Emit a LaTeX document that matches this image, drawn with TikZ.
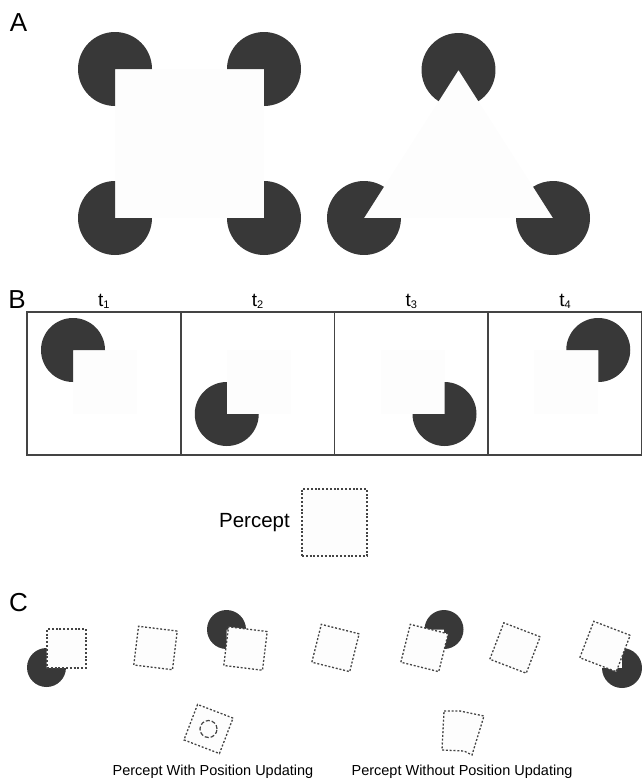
\documentclass[tikz,border=0pt]{standalone}
\usepackage{fontspec}
\setmainfont{Liberation Sans}
\usepackage{xcolor}
\usepackage{tikz}
\usetikzlibrary{positioning}
\definecolor{ink}{HTML}{383838}
\definecolor{rule}{HTML}{444444}
\definecolor{ghost}{HTML}{FDFDFD}
\tikzset{
  frame/.style={rectangle,draw=rule,line width=1.6pt,minimum width=153.75pt,
    minimum height=143pt,inner sep=0pt,outer sep=0pt},
  illusory/.style={rectangle,fill=ghost,minimum size=64pt,inner sep=0pt,outer sep=0pt},
  percline/.style={draw=rule,line width=1.3pt,dash pattern=on 2pt off 1.8pt},
  percbox/.style={percline,rectangle,fill=ghost,minimum size=39pt,inner sep=0pt,outer sep=0pt},
  ring/.style={circle,draw=rule,line width=1.2pt,dash pattern=on 4pt off 2pt,
    minimum size=17pt,inner sep=0pt},
  panel/.style={font=\fontsize{26}{26}\selectfont,inner sep=0pt},
  tlabel/.style={font=\fontsize{19}{19}\selectfont,inner sep=0pt},
  word/.style={font=\fontsize{20.5}{22}\selectfont,inner sep=0pt},
  caption/.style={font=\fontsize{14.5}{17}\selectfont,inner sep=0pt}
}
\newcommand{\pacman}[4]{\fill[ink] #1 -- ++(#3:#4) arc[start angle=#3,end angle=#2+360,radius=#4] -- cycle;}
\newcommand{\tsub}[1]{\raisebox{-2.5pt}{\fontsize{11}{11}\selectfont #1}}

\begin{document}
\begin{tikzpicture}[x=1pt,y=1pt]
\useasboundingbox (0,0) rectangle (641,-779);
\node[panel] (la) at (18.5,-23) {A};
\node[illusory,minimum size=149pt] (ksq) at (189.5,-143.5) {};
\pacman{(ksq.north west)}{270}{360}{37pt}
\pacman{(ksq.north east)}{180}{270}{37pt}
\pacman{(ksq.south west)}{0}{90}{37pt}
\pacman{(ksq.south east)}{90}{180}{37pt}
\coordinate (ta) at (458.5,-70);
\coordinate (tb) at (364,-218);
\coordinate (tc) at (553,-218);
\fill[ghost] (ta) -- (tb) -- (tc) -- cycle;
\pacman{(ta)}{237.5}{302.5}{37pt}
\pacman{(tb)}{0}{57.5}{37pt}
\pacman{(tc)}{122.5}{180}{37pt}

\node[panel] (lb) at (17,-300) {B};
\node[frame,anchor=north west] (f1) at (27,-312) {};
\node[frame,right=0pt of f1] (f2) {};
\node[frame,right=0pt of f2] (f3) {};
\node[frame,right=0pt of f3] (f4) {};
\node[tlabel,above=3pt of f1] (t1) {t\tsub{1}};
\node[tlabel,above=3pt of f2] (t2) {t\tsub{2}};
\node[tlabel,above=3pt of f3] (t3) {t\tsub{3}};
\node[tlabel,above=3pt of f4] (t4) {t\tsub{4}};
\node[illusory,anchor=north west] (q1) at ([shift={(46,-38)}]f1.north west) {};
\node[illusory,anchor=north west] (q2) at ([shift={(46,-38)}]f2.north west) {};
\node[illusory,anchor=north west] (q3) at ([shift={(46,-38)}]f3.north west) {};
\node[illusory,anchor=north west] (q4) at ([shift={(46,-38)}]f4.north west) {};
\pacman{(q1.north west)}{270}{360}{32pt}
\pacman{(q2.south west)}{0}{90}{32pt}
\pacman{(q3.south east)}{90}{180}{32pt}
\pacman{(q4.north east)}{180}{270}{32pt}

\node[percbox,minimum width=65pt,minimum height=67pt] (pb) at (334.5,-522.5) {};
\node[word,left=12pt of pb] (pl) {Percept};

\node[panel] (lc) at (18.5,-603) {C};
\pacman{(46.5,-667.5)}{0}{90}{19.5pt}
\node[percbox] (c1) at (66.5,-648.5) {};
\node[percbox,rotate=-7] (c2) at (155.5,-648) {};
\pacman{(226.5,-629.5)}{270}{360}{19.5pt}
\node[percbox,rotate=-7] (c3) at (245.5,-648.5) {};
\node[percbox,rotate=-14] (c4) at (335.5,-648) {};
\pacman{(444,-629.5)}{180}{270}{19.5pt}
\node[percbox,rotate=-14] (c5) at (424.5,-648) {};
\node[percbox,rotate=-21] (c6) at (515,-648) {};
\pacman{(622,-668)}{90}{180}{20pt}
\node[percbox,rotate=-21] (c7) at (605,-646.5) {};

\node[percbox,rotate=-21,minimum size=38pt] (pw) at (208.5,-729) {};
\node[ring] (pwr) at (pw.center) {};
\draw[percline,fill=ghost] (444,-711) -- (460,-711) -- (484,-716) -- (472,-755) -- (464,-751) -- (442,-750) -- cycle;
\node[caption] (cw) at (213,-772) {Percept With Position Updating};
\node[caption] (cwo) at (462,-772) {Percept Without Position Updating};
\end{tikzpicture}
\end{document}
